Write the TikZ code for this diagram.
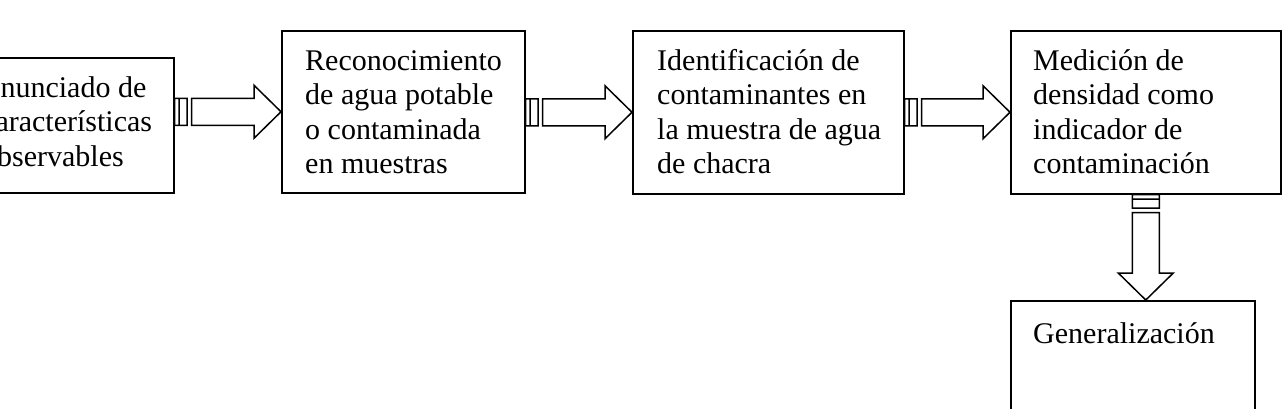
\documentclass[tikz,border=0pt]{standalone}
\usepackage{fontspec}
\setmainfont{Liberation Serif}
\usetikzlibrary{calc}
\tikzset{
  box/.style={draw, line width=1.5pt, inner sep=0pt, anchor=north west},
  lbl/.style={anchor=base west, inner sep=0pt, align=left, font=\fontsize{30}{34.5}\selectfont},
  arr/.style={draw, line width=1.5pt, fill=white, line join=miter}
}
\newcommand\striparrowH[2]{%
  \path[arr] let \p1=(#1), \p2=(#2) in
    (\x1,\y2-13.5pt) rectangle (\x1+4.5pt,\y2+13.5pt)
    (\x1+4.5pt,\y2-13.5pt) rectangle (\x1+12.5pt,\y2+13.5pt)
    (\x1+17pt,\y2-13.5pt) -- (\x2-27pt,\y2-13.5pt) -- (\x2-27pt,\y2-26.5pt) -- (\x2,\y2)
    -- (\x2-27pt,\y2+26.5pt) -- (\x2-27pt,\y2+13.5pt) -- (\x1+17pt,\y2+13.5pt) -- cycle;
}
\newcommand\striparrowV[2]{%
  \path[arr] let \p1=(#1), \p2=(#2) in
    (\x1-13.5pt,\y1) rectangle (\x1+13.5pt,\y1-4.5pt)
    (\x1-13.5pt,\y1-4.5pt) rectangle (\x1+13.5pt,\y1-13.5pt)
    (\x1-13.5pt,\y1-18pt) -- (\x1-13.5pt,\y2+27pt) -- (\x1-27.5pt,\y2+27pt) -- (\x1,\y2)
    -- (\x1+27.5pt,\y2+27pt) -- (\x1+13.5pt,\y2+27pt) -- (\x1+13.5pt,\y1-18pt) -- cycle;
}
\begin{document}
\begin{tikzpicture}[x=1pt,y=-1pt]
\useasboundingbox (0,0) rectangle (1284,408);
\clip (0,0) rectangle (1284,408);
\node[box, minimum width=216pt, minimum height=135pt] (b1) at (-43,57) {};
\node[box, minimum width=243pt, minimum height=162pt] (b2) at (281,30) {};
\node[box, minimum width=271pt, minimum height=163pt] (b3) at (632,30) {};
\node[box, minimum width=270pt, minimum height=163pt] (b4) at (1010,30) {};
\node[box, minimum width=244pt, minimum height=130pt] (b5) at (1010,300) {};
\node[lbl] (t1) at (-18,166) {Enunciado de\\características\\observables};
\node[lbl] (t2) at (305,173.5) {Reconocimiento\\de agua potable\\o contaminada\\en muestras};
\node[lbl] (t3) at (657,173.5) {Identificación de\\contaminantes en\\la muestra de agua\\de chacra};
\node[lbl] (t4) at (1033,173.5) {Medición de\\densidad como\\indicador de\\contaminación};
\node[lbl] (t5) at (1033,343) {Generalización};
\striparrowH{b1.east}{b2.west}
\striparrowH{b2.east}{b3.west}
\striparrowH{b3.east}{b4.west}
\striparrowV{b4.south}{b5.north}
\end{tikzpicture}
\end{document}
